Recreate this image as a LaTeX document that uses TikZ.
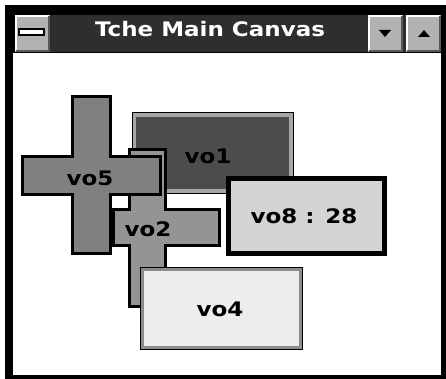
\documentclass[tikz,border=0pt]{standalone}
\usepackage{fontspec}
\setmainfont{DejaVu Sans}
\newfontfamily\winfont[FakeStretch=1.15]{DejaVu Sans}
\usepackage{tikz}

\begin{document}
\begin{tikzpicture}[x=1pt, y=-1pt,
    lbl/.style={font=\winfont\bfseries\fontsize{20}{20}\selectfont, inner sep=0pt},
    crossshape/.style={draw=black, line width=3pt, line join=miter},
    winbutton/.style={fill=black!30}]
                \useasboundingbox (0,0) rectangle (446,379);

                % Window frame and client area
                \fill[black] (5,5) rectangle (446,379);
                \fill[white] (13,53) rectangle (441,375);

                % Title bar
                \fill[black!82] (15,15) rectangle (441,52);
                \foreach \xa/\xb in {15/50, 368/403, 406/441} {
                    \fill[winbutton] (\xa,15) rectangle (\xb,52);
                    \draw[white, line width=1.5pt] (\xa+1,51) -- (\xa+1,16) -- (\xb-1,16);
                    \draw[black!65, line width=1.5pt] (\xa+1,51) -- (\xb-1,51) -- (\xb-1,16);
                }
                \filldraw[fill=white, draw=black, line width=1.5pt] (19,29) rectangle (44,35); % system menu bar
                \fill[black] (379,30) -- (391,30) -- (385,37) -- cycle; % minimise
                \fill[black] (418,37) -- (430,37) -- (424,30) -- cycle; % maximise
                \node[font=\winfont\bfseries\fontsize{20}{20}\selectfont, text=white, inner sep=0pt] (title) at (210,29) {Tche Main Canvas};

                % vo1 - dark box with light frame
                \filldraw[fill=black!35, draw=black, line width=1pt] (132,113) rectangle (293,193);
                \fill[black!70] (136,117) rectangle (289,189);
                \node[lbl] (vo1) at (208,156) {vo1};

                % vo8 - thick black border
                \filldraw[fill=black!17, draw=black, line width=5pt] (228.5,178.5) rectangle (384.5,253.5);
                \node[lbl] (vo8) at (304,216) {vo8 : 28};

                % vo2 - cross
                \filldraw[crossshape, fill=black!42] (129.5,149.5) -- (165.5,149.5) -- (165.5,209.5) -- (219.5,209.5)
                    -- (219.5,245.5) -- (165.5,245.5) -- (165.5,306.5) -- (129.5,306.5) -- (129.5,245.5)
                    -- (113.5,245.5) -- (113.5,209.5) -- (129.5,209.5) -- cycle;
                \node[lbl] (vo2) at (148,229) {vo2};

                % vo5 - cross on top of vo2
                \filldraw[crossshape, fill=black!50] (72.5,96.5) -- (110.5,96.5) -- (110.5,156.5) -- (160.5,156.5)
                    -- (160.5,194.5) -- (110.5,194.5) -- (110.5,253.5) -- (72.5,253.5) -- (72.5,194.5)
                    -- (22.5,194.5) -- (22.5,156.5) -- (72.5,156.5) -- cycle;
                \node[lbl] (vo5) at (90,178) {vo5};

                % vo4 - light box with grey frame
                \filldraw[fill=black!45, draw=black, line width=1.5pt] (140.5,267.5) rectangle (302.5,349.5);
                \fill[black!7] (144,271) rectangle (299,346);
                \node[lbl] (vo4) at (220,309) {vo4};

            \end{tikzpicture}
\end{document}
